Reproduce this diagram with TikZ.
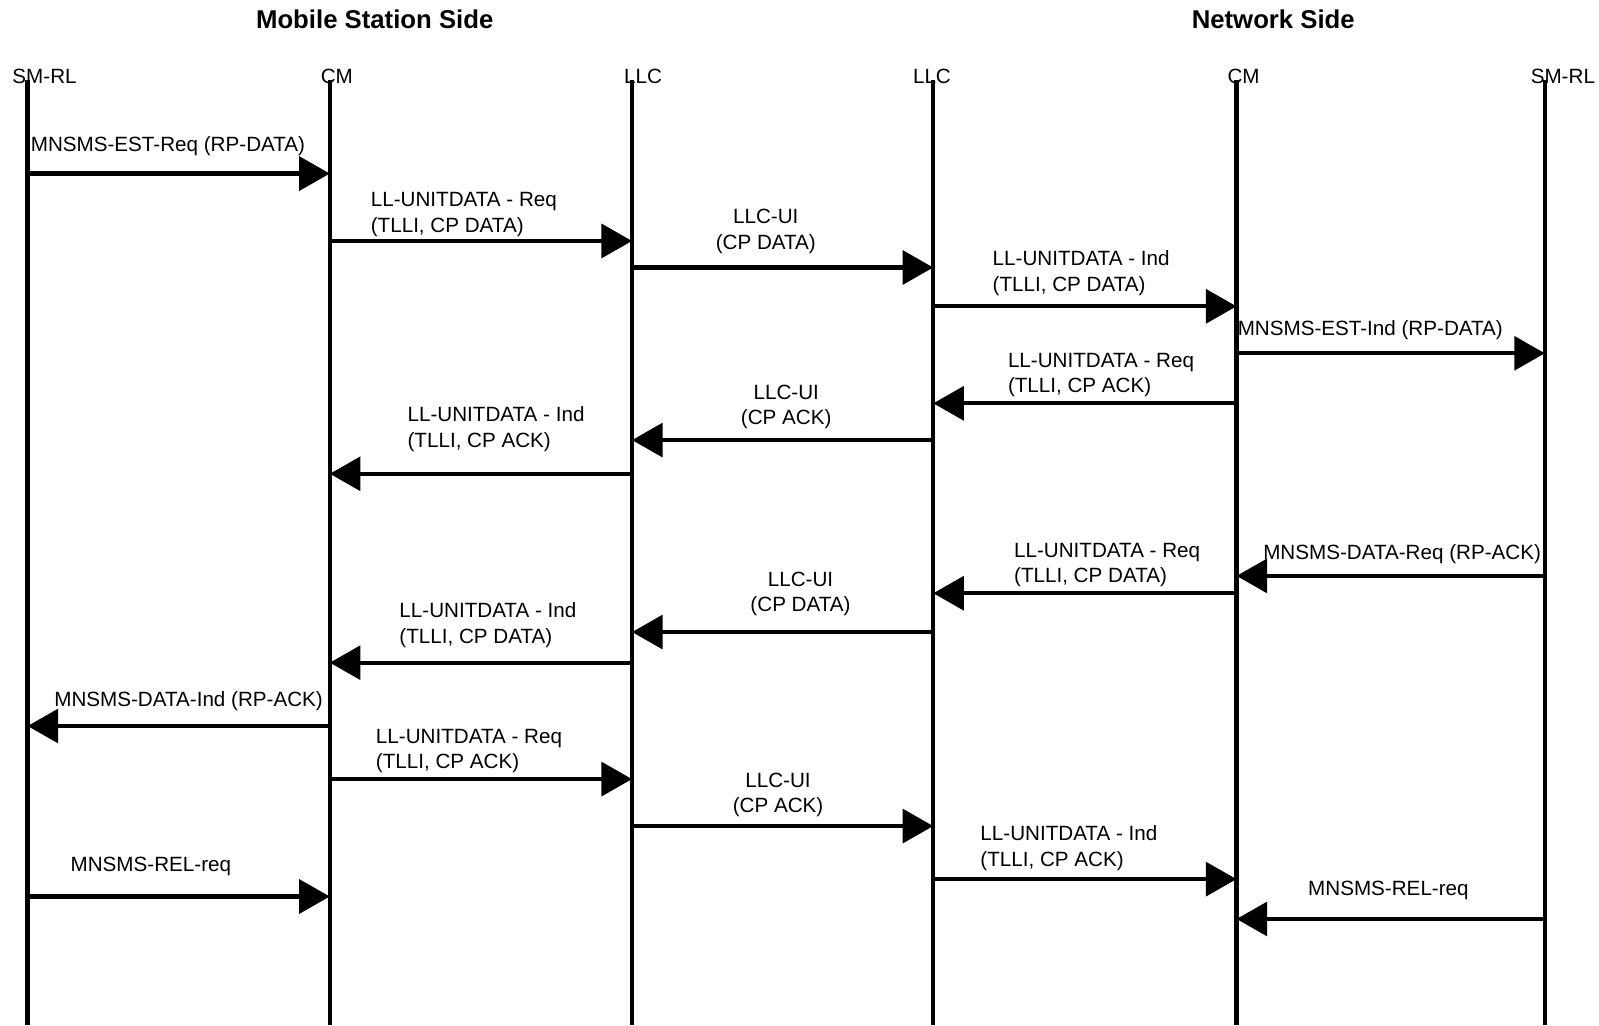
\documentclass[tikz,border=0pt]{standalone}
\usepackage{fontspec}
\setmainfont{Liberation Sans}
\usepackage{tikz}
\usetikzlibrary{arrows.meta}

\begin{document}
\begin{tikzpicture}[x=1pt, y=-1pt,
    lifeline/.style={line width=4.2pt},
    msg/.style={line width=4.2pt, -{Triangle[length=30pt, width=33pt]}},
    lbl/.style={inner sep=0pt, font=\fontsize{20.2}{25}\selectfont, align=left},
    side/.style={inner sep=0pt, font=\fontsize{25.2}{30}\selectfont\bfseries}]
    \useasboundingbox (0, 0) rectangle (1566, 1004);

    \node [side] (msside) at (367, 19) {Mobile Station Side};
    \node [side] (nwside) at (1247, 19) {Network Side};

    \node [lbl, anchor=west] (smrlAlbl) at (12, 75) {SM-RL};
    \node [lbl, anchor=west] (cmAlbl) at (314, 75) {CM};
    \node [lbl, anchor=west] (llcAlbl) at (611, 75) {LLC};
    \node [lbl, anchor=west] (llcBlbl) at (894, 75) {LLC};
    \node [lbl, anchor=west] (cmBlbl) at (1202, 75) {CM};
    \node [lbl, anchor=west] (smrlBlbl) at (1499, 75) {SM-RL};

    \coordinate (smA) at (27, 78);
    \coordinate (cmA) at (323, 78);
    \coordinate (llcA) at (619, 78);
    \coordinate (llcB) at (914, 78);
    \coordinate (cmB) at (1211, 78);
    \coordinate (smB) at (1513, 78);

    \draw [lifeline] (smA) -- (smA |- 0,1004);
    \draw [lifeline] (cmA) -- (cmA |- 0,1004);
    \draw [lifeline] (llcA) -- (llcA |- 0,1004);
    \draw [lifeline] (llcB) -- (llcB |- 0,1004);
    \draw [lifeline] (cmB) -- (cmB |- 0,1004);
    \draw [lifeline] (smB) -- (smB |- 0,1004);

    % establishment
    \node [lbl, anchor=west] (estreq) at (30, 143) {MNSMS-EST-Req (RP-DATA)};
    \draw [msg] (smA |- 0,170) -- (cmA |- 0,170);

    \node [lbl, anchor=west] (llreq1) at (363, 210) {LL-UNITDATA - Req\\(TLLI, CP DATA)};
    \draw [msg] (cmA |- 0,236) -- (llcA |- 0,236);

    \node [lbl, align=center] (llcui1) at (750, 226.5) {LLC-UI\\(CP DATA)};
    \draw [msg] (llcA |- 0,262) -- (llcB |- 0,262);

    \node [lbl, anchor=west] (llind1) at (972, 267.5) {LL-UNITDATA - Ind\\(TLLI, CP DATA)};
    \draw [msg] (llcB |- 0,300) -- (cmB |- 0,300);

    \node [lbl, anchor=west] (estind) at (1212, 323) {MNSMS-EST-Ind (RP-DATA)};
    \draw [msg] (cmB |- 0,346) -- (smB |- 0,346);

    % first CP ACK
    \node [lbl, anchor=west] (llreq2) at (987, 367.5) {LL-UNITDATA - Req\\(TLLI, CP ACK)};
    \draw [msg] (cmB |- 0,395) -- (llcB |- 0,395);

    \node [lbl, align=center] (llcui2) at (770, 398.5) {LLC-UI\\(CP ACK)};
    \draw [msg] (llcB |- 0,431) -- (llcA |- 0,431);

    \node [lbl, anchor=west] (llind2) at (399, 420.5) {LL-UNITDATA - Ind\\(TLLI, CP ACK)};
    \draw [msg] (llcA |- 0,464) -- (cmA |- 0,464);

    % report
    \node [lbl, anchor=west] (datareq) at (1237, 543) {MNSMS-DATA-Req (RP-ACK)};
    \draw [msg] (smB |- 0,564) -- (cmB |- 0,564);

    \node [lbl, anchor=west] (llreq3) at (993, 553.5) {LL-UNITDATA - Req\\(TLLI, CP DATA)};
    \draw [msg] (cmB |- 0,581) -- (llcB |- 0,581);

    \node [lbl, align=center] (llcui3) at (784, 581.5) {LLC-UI\\(CP DATA)};
    \draw [msg] (llcB |- 0,619) -- (llcA |- 0,619);

    \node [lbl, anchor=west] (llind3) at (391, 612.5) {LL-UNITDATA - Ind\\(TLLI, CP DATA)};
    \draw [msg] (llcA |- 0,649) -- (cmA |- 0,649);

    \node [lbl, anchor=west] (dataind) at (53, 687) {MNSMS-DATA-Ind (RP-ACK)};
    \draw [msg] (cmA |- 0,711) -- (smA |- 0,711);

    % second CP ACK
    \node [lbl, anchor=west] (llreq4) at (368, 735.5) {LL-UNITDATA - Req\\(TLLI, CP ACK)};
    \draw [msg] (cmA |- 0,763) -- (llcA |- 0,763);

    \node [lbl, align=center] (llcui4) at (762, 778.5) {LLC-UI\\(CP ACK)};
    \draw [msg] (llcA |- 0,809) -- (llcB |- 0,809);

    \node [lbl, anchor=west] (llind4) at (960, 830.5) {LL-UNITDATA - Ind\\(TLLI, CP ACK)};
    \draw [msg] (llcB |- 0,861) -- (cmB |- 0,861);

    % release
    \node [lbl, anchor=west] (relreqA) at (69, 849) {MNSMS-REL-req};
    \draw [msg] (smA |- 0,878) -- (cmA |- 0,878);

    \node [lbl, anchor=west] (relreqB) at (1281, 872) {MNSMS-REL-req};
    \draw [msg] (smB |- 0,900) -- (cmB |- 0,900);
\end{tikzpicture}
\end{document}
